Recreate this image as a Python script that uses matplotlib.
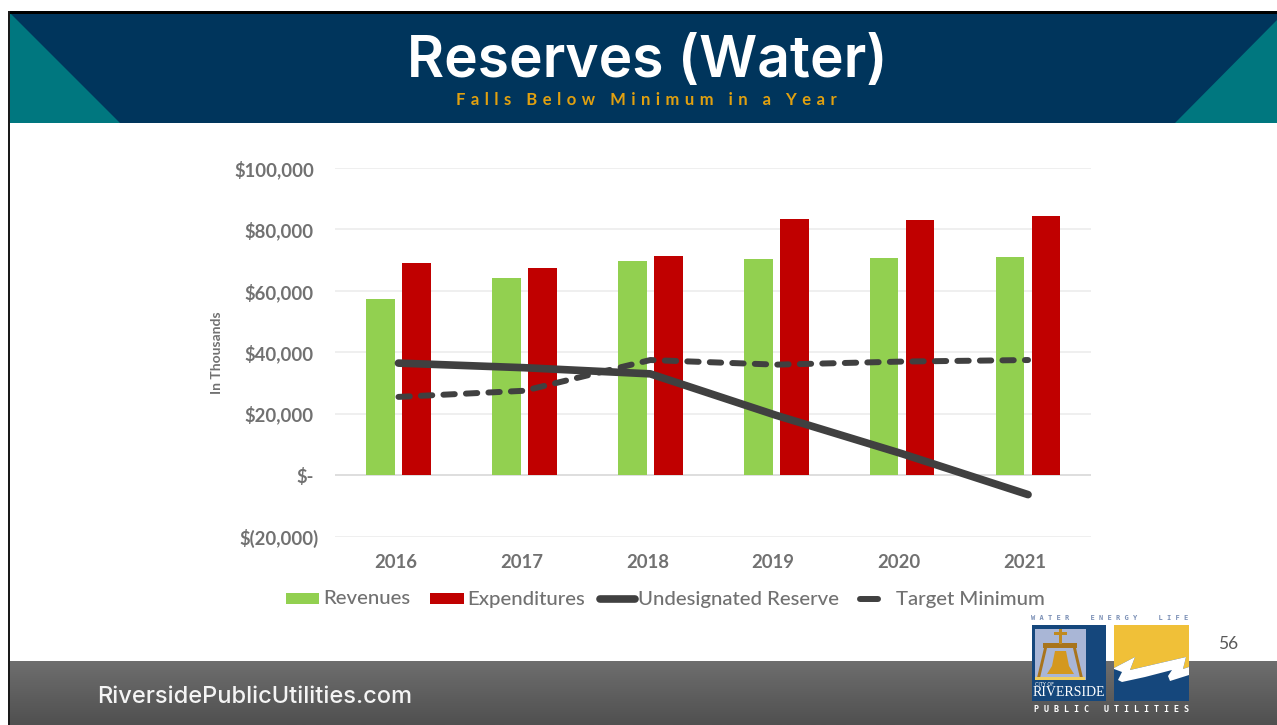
import matplotlib
matplotlib.use("Agg")
import matplotlib.pyplot as plt
import numpy as np
from matplotlib.colors import LinearSegmentedColormap
from matplotlib.patches import Polygon, Rectangle
from matplotlib.lines import Line2D
from matplotlib.transforms import ScaledTranslation

W, H = 1277, 725

years = ["2016", "2017", "2018", "2019", "2020", "2021"]
revenues = [57500, 64200, 69700, 70300, 70600, 71000]
expenditures = [69000, 67300, 71200, 83500, 83200, 84500]
undesignated = [36500, 35000, 33000, 19500, 7000, -6300]
target_min = [25500, 27500, 37500, 36000, 37000, 37500]
y_ticks = [-20000, 0, 20000, 40000, 60000, 80000, 100000]
y_labels = ["$(20,000)", "$-", "$20,000", "$40,000", "$60,000", "$80,000", "$100,000"]

TEXT_GRAY = "#717171"
LINE_GRAY = "#404040"
NAVY = "#00355c"
TEAL = "#00777f"
LOGO_BLUE = "#15477c"
LOGO_GOLD = "#f0c038"
SPACED = "\u2004"

fig = plt.figure(figsize=(W / 100, H / 100), dpi=100, facecolor="white")

# slide background, in pixel coordinates
bg = fig.add_axes([0, 0, 1, 1])
bg.axis("off")

bg.add_patch(Rectangle((10, 13), W - 10, 110, fc=NAVY, ec="none"))
bg.add_patch(Polygon([(10, 13), (10, 123), (120, 123)], fc=TEAL, ec="none"))
bg.add_patch(Polygon([(W, 20), (W, 123), (1175, 123)], fc=TEAL, ec="none"))
bg.add_patch(Rectangle((8, 11), W - 8, 3, fc="black", ec="none"))
bg.add_patch(Rectangle((8, 11), 2, H - 11, fc="#1a1a1a", ec="none"))

# footer gradient
grad = np.linspace(0, 1, 64).reshape(-1, 1)
footer = LinearSegmentedColormap.from_list("footer", ["#6e6e6e", "#505050"])
bg.imshow(grad, extent=(10, W, H, 661), cmap=footer, aspect="auto", zorder=1)
bg.set_xlim(0, W)
bg.set_ylim(H, 0)

bg.text(647, 62, "Reserves (Water)", color="white", fontsize=41, family="Inter", weight="semibold",
        ha="center", va="center")
bg.text(646.5, 100, SPACED.join("Falls Below Minimum in a Year"), color="#e0a010", fontsize=12,
        family=["Lato", "DejaVu Sans"], weight="bold", ha="center", va="center")
bg.text(97, 697, "RiversidePublicUtilities.com", color="#f4f4f4", fontsize=17, family="Inter",
        weight="medium", ha="left", va="center", zorder=3)
bg.text(1228, 644, "56", color="#595959", fontsize=12.5, family="Lato", ha="center", va="center")

# logo
bg.add_patch(Rectangle((1032, 625), 74, 76, fc=LOGO_BLUE, ec="none", zorder=3))
bg.add_patch(Rectangle((1035, 629), 51, 51, fc="#a9b6d6", ec="none", zorder=3))
bg.add_patch(Polygon([(1037, 678), (1044, 648), (1047, 648), (1040, 678)], fc="#a8741c", ec="none", zorder=4))
bg.add_patch(Polygon([(1083, 678), (1076, 648), (1073, 648), (1080, 678)], fc="#a8741c", ec="none", zorder=4))
bg.add_patch(Rectangle((1043, 643), 34, 5, fc="#a8741c", ec="none", zorder=4))
bg.add_patch(Rectangle((1059, 629), 3, 15, fc="#c08a20", ec="none", zorder=4))
bg.add_patch(Rectangle((1054, 632), 13, 2.5, fc="#c08a20", ec="none", zorder=4))
bg.add_patch(Polygon([(1055, 651), (1066, 651), (1069, 666), (1074, 674), (1047, 674), (1052, 666)],
                     fc="#d4981f", ec="none", zorder=4))
bg.add_patch(Rectangle((1035, 677), 50, 2.5, fc="#f0d060", ec="none", zorder=4))
bg.text(1069, 692, "RIVERSIDE", color="white", fontsize=10, family="Liberation Serif",
        ha="center", va="center", zorder=5)
bg.text(1035, 684, "CITY OF", color="white", fontsize=3.5, ha="left", va="center", zorder=5)
bg.add_patch(Rectangle((1114, 625), 75, 76, fc=LOGO_BLUE, ec="none", zorder=3))
bg.add_patch(Polygon([(1114, 625), (1189, 625), (1189, 667), (1183, 669), (1186, 657), (1130, 670),
                      (1135, 657), (1114, 668)], fc=LOGO_GOLD, ec="none", zorder=4))
bg.add_patch(Polygon([(1114, 668), (1135, 657), (1130, 670), (1186, 657), (1183, 669), (1189, 667),
                      (1189, 675), (1170, 681), (1168, 676), (1172, 670), (1145, 677), (1122, 682),
                      (1118, 680), (1122, 672), (1114, 669)], fc="white", ec="none", zorder=4))
bg.text(1110, 618, "WATER\u2003\u2003ENERGY\u2003\u2003LIFE".replace("", "\u2002").strip("\u2002"),
        color="#7a8fb5", fontsize=5, weight="bold", family="DejaVu Sans Mono",
        ha="center", va="center", zorder=5)
bg.text(1111, 710, "PUBLIC UTILITIES".replace("", "\u2002").strip("\u2002"), color="white",
        fontsize=6, weight="bold", family="DejaVu Sans Mono", ha="center", va="center", zorder=5)

# chart
left, right, top, bottom = 335.5, 1091, 168, 536.7
ax = fig.add_axes([left / W, 1 - bottom / H, (right - left) / W, (bottom - top) / H])
ax.patch.set_alpha(0)
x = np.arange(len(years))
bar_w = 0.228
ax.bar(x - 0.143, revenues, bar_w, color="#92d050", zorder=2)
ax.bar(x + 0.143, expenditures, bar_w, color="#c00000", zorder=2)
ax.plot(x, undesignated, color=LINE_GRAY, lw=5.5, solid_capstyle="round", zorder=3)
ax.plot(x, target_min, color=LINE_GRAY, lw=4.3, dashes=(1.9, 1.87), dash_capstyle="round", zorder=3)

ax.set_xlim(-0.5, 5.5)
ax.set_ylim(-20000, 100000)
ax.set_yticks(y_ticks)
ax.set_yticklabels(y_labels)
ax.set_xticks(x)
ax.set_xticklabels(years)
ax.tick_params(length=0, labelcolor=TEXT_GRAY, labelsize=13.3)
ax.tick_params(axis="y", pad=15.5)
ax.tick_params(axis="x", pad=12.5)
ax.yaxis.get_major_ticks()[0].set_pad(12.5)
for lab in ax.get_xticklabels() + ax.get_yticklabels():
    lab.set_family("Lato")
    lab.set_weight("bold")
# the year labels sit a little left of the bar groups on the slide
shift = ScaledTranslation(-3 / 100, 0, fig.dpi_scale_trans)
for lab in ax.get_xticklabels():
    lab.set_transform(lab.get_transform() + shift)
ax.yaxis.grid(True, color="#ebebeb", lw=1.1, zorder=0)
ax.axhline(0, color="#d9d9d9", lw=1.1, zorder=1)
ax.set_axisbelow(True)
for s in ax.spines.values():
    s.set_visible(False)
ax.text((217 - left) / (right - left), 0.5, "In Thousands", transform=ax.transAxes, rotation=90,
        color=TEXT_GRAY, fontsize=10, family="Lato", weight="bold", ha="center", va="center")


# legend drawn by hand so each key lines up with the slide
def key_text(px, s):
    bg.text(px, 599, s, color=TEXT_GRAY, fontsize=14.7, family="Lato", weight="medium",
            ha="left", va="center", zorder=5)


bg.add_patch(Rectangle((286, 593), 33, 11, fc="#92d050", ec="none"))
key_text(323, "Revenues")
bg.add_patch(Rectangle((430, 593), 34, 11, fc="#c00000", ec="none"))
key_text(467, "Expenditures")
bg.add_line(Line2D([600, 635], [598.5, 598.5], color=LINE_GRAY, lw=5.5, solid_capstyle="round"))
key_text(638, "Undesignated Reserve")
bg.add_line(Line2D([860, 878], [598.5, 598.5], color=LINE_GRAY, lw=4.3, solid_capstyle="round"))
key_text(896, "Target Minimum")

fig.savefig("out.png", dpi=100)
